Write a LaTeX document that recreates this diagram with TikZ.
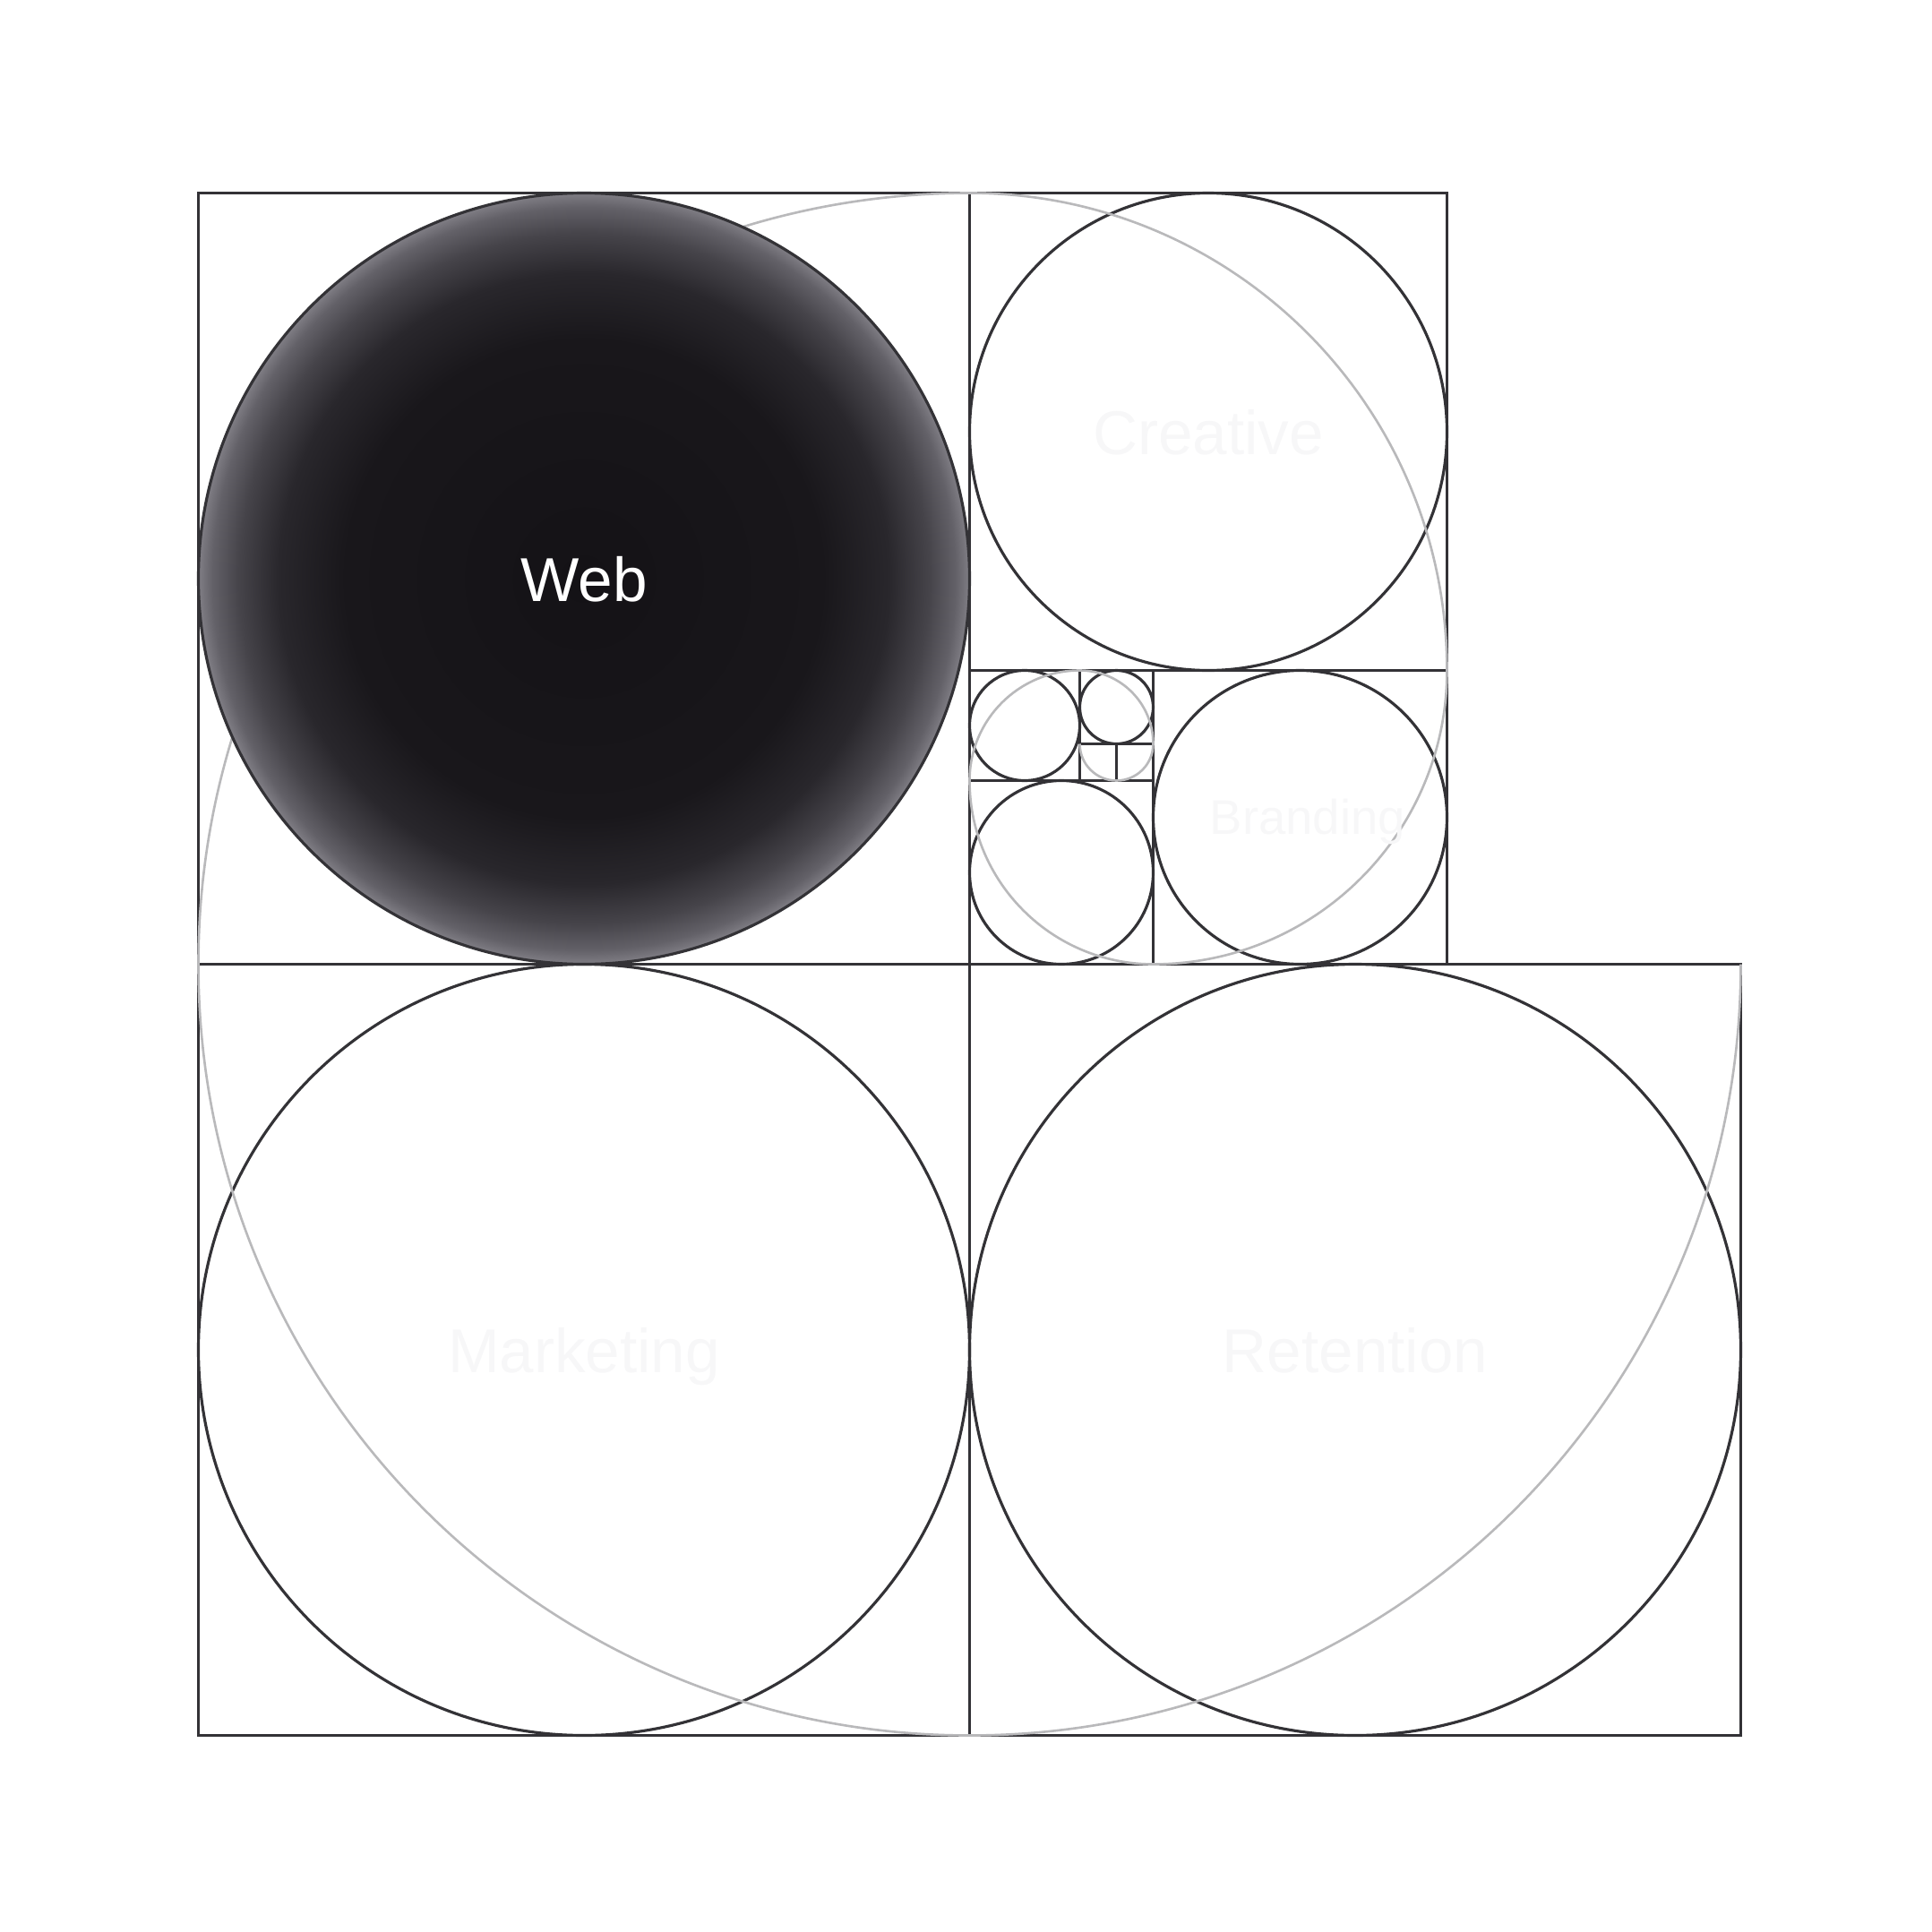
\documentclass[tikz,border=0pt]{standalone}
\usepackage{fontspec}
\setmainfont{Liberation Sans}
\definecolor{linec}{HTML}{333236}
\definecolor{spiralc}{HTML}{B9B9BB}
\definecolor{labelc}{HTML}{F7F7F8}
\definecolor{webA}{HTML}{141216}
\definecolor{webB}{HTML}{19171B}
\definecolor{webC}{HTML}{29272C}
\definecolor{webD}{HTML}{46444A}
\definecolor{webE}{HTML}{636168}
\definecolor{webF}{HTML}{807E85}
\pgfdeclareradialshading{webshade}{\pgfpoint{0bp}{0bp}}{color(0bp)=(webA); color(15.5bp)=(webB); color(19.8bp)=(webC); color(22.4bp)=(webD); color(24.1bp)=(webE); color(25bp)=(webF); color(50bp)=(webF)}
\begin{document}
\begin{tikzpicture}[x=0.41cm,y=0.41cm,
  sq/.style={draw=linec,line width=0.9pt},
  ring/.style={draw=linec,line width=0.9pt},
  spiral/.style={draw=spiralc,line width=0.75pt},
  lab/.style={anchor=base,inner sep=0pt,font=\fontsize{19.7}{22}\selectfont},
  faint/.style={lab,text=labelc}]
\useasboundingbox (-5.4024,5.2561) rectangle (47.2073,-47.3537);
% squares
\draw[sq] (0,0) rectangle (21,-21);
\draw[sq] (0,-21) rectangle (21,-42);
\draw[sq] (21,-21) rectangle (42,-42);
\draw[sq] (21,0) rectangle (34,-13);
\draw[sq] (26,-13) rectangle (34,-21);
\draw[sq] (21,-16) rectangle (26,-21);
\draw[sq] (21,-13) rectangle (24,-16);
\draw[sq] (24,-13) rectangle (26,-15);
\draw[sq] (24,-15) rectangle (25,-16);
\draw[sq] (25,-15) rectangle (26,-16);
% inscribed circles
\draw[ring] (10.5,-31.5) circle[radius=10.5];
\draw[ring] (31.5,-31.5) circle[radius=10.5];
\draw[ring] (27.5,-6.5) circle[radius=6.5];
\draw[ring] (30,-17) circle[radius=4];
\draw[ring] (23.5,-18.5) circle[radius=2.5];
\draw[ring] (22.5,-14.5) circle[radius=1.5];
\draw[ring] (25,-14) circle[radius=1];
% golden spiral (grey)
\draw[spiral] (24,-15) arc[start angle=180,end angle=360,radius=1]
  arc[start angle=0,end angle=90,radius=2]
  arc[start angle=90,end angle=180,radius=3]
  arc[start angle=180,end angle=270,radius=5]
  arc[start angle=270,end angle=360,radius=8]
  arc[start angle=0,end angle=90,radius=13]
  arc[start angle=90,end angle=360,radius=21];
% Web sphere
\shade[shading=webshade] (10.5,-10.5) circle[radius=10.5];
\draw[ring] (10.5,-10.5) circle[radius=10.5];
% labels
\node[lab,text=white] (web) at (10.5,-11.11) {Web};
\node[faint] (creative) at (27.5,-7.11) {Creative};
\node[faint] (marketing) at (10.5,-32.11) {Marketing};
\node[faint] (retention) at (31.5,-32.11) {Retention};
\node[faint,font=\fontsize{15.5}{18}\selectfont] (branding) at (30.2,-17.47) {Branding};
\end{tikzpicture}
\end{document}
